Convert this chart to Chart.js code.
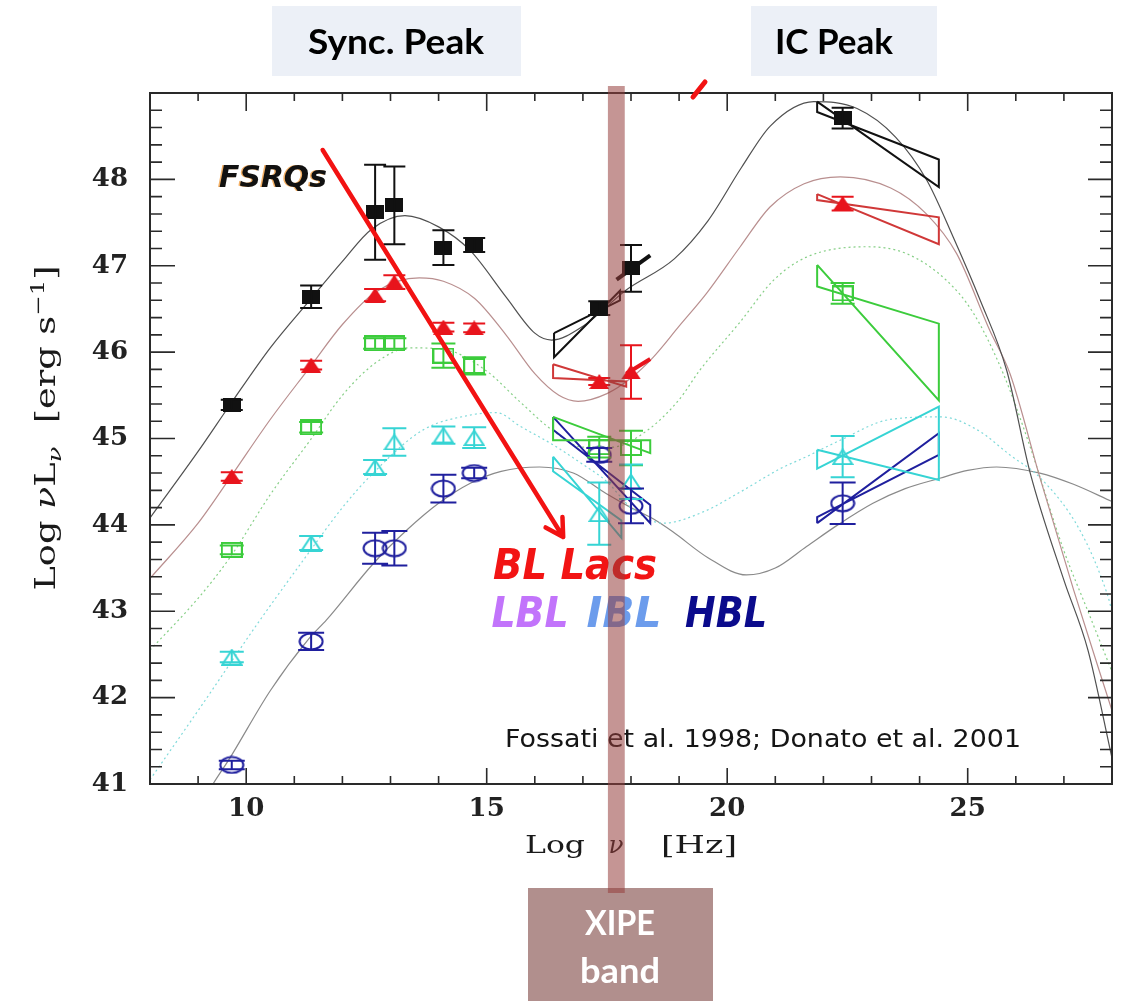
<!DOCTYPE html>
<html lang="en">
<head>
<meta charset="utf-8">
<title>Blazar sequence</title>
<script src="https://cdn.jsdelivr.net/npm/chart.js@4.4.1/dist/chart.umd.min.js"></script>
<style>
  html, body { margin: 0; padding: 0; background: #fff; }
  #box { width: 1124px; height: 1001px; }
</style>
</head>
<body>
<div id="box"><canvas id="sed"></canvas></div>
<script>
(() => {
  "use strict";

  // log nu [Hz] of the averaged SED points (radio, mm, IR/optical, X-ray, gamma)
  const logNu = [9.7, 11.35, 12.68, 13.08, 14.1, 14.74, 17.34, 18.0, 22.4];

  // labelled ticks on the frequency axis
  const nuTicks = [10, 15, 20, 25];

  // log nuL_nu per radio-luminosity bin, brightest first, with error bars
  const bin1Lum = [45.39, 46.64, 47.62, 47.70, 47.21, 47.24, 46.51, 46.97, 48.71];
  const bin1Err = [0.06, 0.13, 0.55, 0.45, 0.2, 0.08, 0.08, 0.27, 0.12];
  const bin2Lum = [44.56, 45.85, 46.66, 46.81, 46.29, 46.28, 45.66, 45.77, 47.72];
  const bin2Err = [0.05, 0.05, 0.07, 0.08, 0.05, 0.05, 0.04, 0.31, 0.08];
  const bin3Lum = [43.71, 45.13, 46.10, 46.10, 45.96, 45.84, 44.90, 44.89, 46.68];
  const bin3Err = [0.05, 0.06, 0.06, 0.06, 0.14, 0.1, 0.12, 0.2, 0.12];
  const bin4Lum = [42.47, 43.79, 44.67, 44.96, 45.04, 45.01, 44.13, 44.50, 44.79];
  const bin4Err = [0.06, 0.08, 0.08, 0.16, 0.1, 0.12, 0.36, 0.2, 0.24];
  const bin5Lum = [41.22, 42.65, 43.73, 43.73, 44.42, 44.60, 44.81, 44.22, 44.25];
  const bin5Err = [0.05, 0.1, 0.18, 0.2, 0.16, 0.06, 0.08, 0.2, 0.24];

  // X-ray and gamma-ray bow-ties: [log nu, log nuL_nu] corners
  const bin1XrayTie = [[16.4, 46.22], [17.77, 46.60], [17.77, 46.71], [16.4, 45.94]];
  const bin1SoftTie = [[17.7, 46.84], [18.4, 47.12]];
  const bin1GammaTie = [[21.87, 48.90], [24.4, 47.91], [24.4, 48.23], [21.87, 48.78]];
  const bin2XrayTie = [[16.38, 45.86], [17.9, 45.60], [17.9, 45.66], [16.38, 45.70]];
  const bin2SoftTie = [[17.9, 45.75], [18.4, 45.92]];
  const bin2GammaTie = [[21.87, 47.83], [24.4, 47.25], [24.4, 47.56], [21.87, 47.76]];
  const bin3XrayTie = [[16.38, 45.25], [18.4, 44.83], [18.4, 44.98], [16.38, 44.98]];
  const bin3GammaTie = [[21.87, 47.01], [24.4, 45.44], [24.4, 46.33], [21.87, 46.76]];
  const bin4XrayTie = [[16.38, 44.79], [17.8, 43.85], [17.8, 44.05], [16.38, 44.62]];
  const bin4GammaTie = [[21.87, 44.87], [24.4, 44.52], [24.4, 45.37], [21.87, 44.65]];
  const bin5XrayTie = [[16.38, 45.25], [18.4, 44.02], [18.4, 44.23], [16.38, 45.10]];
  const bin5GammaTie = [[21.87, 44.02], [24.4, 45.06], [24.4, 44.81], [21.87, 44.09]];

  // phenomenological SED model per bin
  const bin1Model = [[8, 44.08], [9, 44.85], [9.7, 45.42], [10.5, 46.05], [11.35, 46.62], [12, 47.05],
    [12.6, 47.42], [13.3, 47.58], [14, 47.45], [14.65, 47.18], [15.4, 46.64], [16, 46.22], [16.35, 46.14],
    [17, 46.3], [17.9, 46.72], [18.9, 47.08], [19.6, 47.52], [20.3, 48.14], [20.9, 48.62], [21.8, 48.9],
    [22.7, 48.82], [23.5, 48.49], [24.15, 47.99], [24.7, 47.33], [25.26, 46.6], [25.81, 45.79],
    [26.3, 44.6], [27, 43.36], [27.5, 42.55], [28, 41.3]];
  const bin2Model = [[8, 43.38], [9, 44.02], [9.67, 44.55], [10.5, 45.22], [11.33, 45.83], [12, 46.32],
    [12.7, 46.7], [13.6, 46.86], [14.1, 46.82], [14.75, 46.62], [15.4, 46.2], [16, 45.75], [16.5, 45.5],
    [16.9, 45.43], [17.5, 45.52], [18, 45.7], [18.46, 45.94], [19, 46.3], [19.57, 46.68], [20.27, 47.22],
    [20.89, 47.68], [21.6, 47.95], [22.35, 48.03], [23.4, 47.9], [24.14, 47.6], [24.77, 47.14],
    [25.46, 46.25], [25.88, 45.75], [26.5, 44.55], [27.2, 43.25], [28, 41.85]];
  const bin3Model = [[8, 42.55], [9, 43.15], [9.66, 43.62], [10.5, 44.35], [11.33, 44.98], [12, 45.5],
    [12.7, 45.88], [13.4, 46.05], [14.2, 46.02], [15, 45.78], [15.7, 45.42], [16.4, 45.08], [17, 44.9],
    [17.6, 44.9], [18.33, 45.09], [19, 45.45], [19.43, 45.79], [20.27, 46.35], [20.96, 46.83],
    [21.65, 47.1], [22.9, 47.22], [23.73, 47.14], [24.56, 46.83], [25.12, 46.45], [25.74, 45.75],
    [26.3, 44.9], [27, 43.7], [27.5, 43.0], [28, 42.3]];
  const bin4Model = [[8, 41.05], [9, 41.85], [10.29, 42.9], [11.33, 43.7], [12, 44.2], [12.64, 44.6],
    [13.68, 45.1], [14.65, 45.27], [15.2, 45.3], [15.7, 45.14], [16.4, 44.92], [17, 44.7], [17.5, 44.5],
    [18, 44.2], [18.67, 44.02], [19.5, 44.15], [20.27, 44.38], [21.1, 44.65], [21.65, 44.79],
    [22.35, 44.98], [23.38, 45.22], [24.45, 45.25], [25.2, 45.1], [25.9, 44.8], [26.5, 44.55],
    [27.33, 43.94], [27.9, 43.2], [28, 43.0]];
  const bin5Model = [[9.1, 40.8], [9.31, 41.0], [9.66, 41.3], [10.5, 42.08], [11.3, 42.68], [11.67, 42.9],
    [12.64, 43.55], [13.34, 43.94], [14, 44.25], [14.65, 44.48], [15.3, 44.62], [16.1, 44.67],
    [16.8, 44.6], [17.49, 44.36], [18, 44.2], [18.46, 44.07], [18.87, 43.92], [19.6, 43.62],
    [20.4, 43.42], [21, 43.5], [21.65, 43.75], [22.3, 44.0], [23.03, 44.25], [23.7, 44.42],
    [24.42, 44.54], [25, 44.63], [25.6, 44.67], [26.5, 44.6], [27.2, 44.47], [28, 44.27]];

  // XIPE energy range drawn as a band, log nu
  const xipeBand = [17.52, 17.87];

  const colBlack = "#111111";
  const colRed = "#e8141c";
  const colGreen = "#3ccc3c";
  const colCyan = "#36d4d4";
  const colNavy = "#1f1f9e";

  const pts = (lum) => logNu.map((nu, i) => ({ x: nu, y: lum[i] }));
  const xy = (list) => list.map(([a, b]) => ({ x: a, y: b }));
  const closed = (tie) => xy([...tie, tie[0]]);

  function markCanvas(w, h, paint) {
    const c = document.createElement("canvas");
    c.width = w; c.height = h;
    paint(c.getContext("2d"), w, h);
    return c;
  }
  const squareMark = markCanvas(18, 14, (g, w, h) => { g.fillStyle = colBlack; g.fillRect(0, 0, w, h); });
  const triMark = markCanvas(20, 15, (g, w, h) => {
    g.fillStyle = colRed; g.beginPath();
    g.moveTo(w / 2, 0); g.lineTo(w, h); g.lineTo(0, h); g.closePath(); g.fill();
  });
  const boxMark = markCanvas(22, 16, (g, w, h) => {
    g.strokeStyle = colGreen; g.lineWidth = 2; g.strokeRect(1, 1, w - 2, h - 2);
  });
  const openTriMark = markCanvas(22, 17, (g, w, h) => {
    g.strokeStyle = colCyan; g.lineWidth = 2; g.beginPath();
    g.moveTo(w / 2, 1.5); g.lineTo(w - 1.5, h - 1); g.lineTo(1.5, h - 1); g.closePath(); g.stroke();
  });
  const ringMark = markCanvas(26, 19, (g, w, h) => {
    g.strokeStyle = colNavy; g.lineWidth = 2; g.beginPath();
    g.ellipse(w / 2, h / 2, w / 2 - 1.5, h / 2 - 1.5, 0, 0, Math.PI * 2); g.stroke();
  });

  const bins = [
    { lum: bin1Lum, err: bin1Err, color: colBlack, cap: 11 },
    { lum: bin2Lum, err: bin2Err, color: colRed, cap: 11 },
    { lum: bin3Lum, err: bin3Err, color: colGreen, cap: 12 },
    { lum: bin4Lum, err: bin4Err, color: colCyan, cap: 12 },
    { lum: bin5Lum, err: bin5Err, color: colNavy, cap: 13 }
  ];

  const markerSet = (lum, img) => ({
    type: "scatter", data: pts(lum), pointStyle: img, pointRadius: 8, showLine: false
  });
  const tieSet = (tie, color, width) => ({
    type: "line", data: tie.length > 2 ? closed(tie) : xy(tie), borderColor: color,
    borderWidth: width || 2, pointRadius: 0, tension: 0, fill: false, showLine: true
  });
  const modelSet = (curve, color, dash) => ({
    type: "line", data: xy(curve), borderColor: color, borderWidth: 1.2, borderDash: dash || [],
    pointRadius: 0, cubicInterpolationMode: "monotone", fill: false, showLine: true
  });

  // first datasets end up on top
  const datasets = [
    markerSet(bin1Lum, squareMark),
    markerSet(bin2Lum, triMark),
    markerSet(bin3Lum, boxMark),
    markerSet(bin4Lum, openTriMark),
    markerSet(bin5Lum, ringMark),
    tieSet(bin1XrayTie, colBlack), tieSet(bin1SoftTie, colBlack, 4), tieSet(bin1GammaTie, colBlack),
    tieSet(bin2XrayTie, "#d03838"), tieSet(bin2SoftTie, colRed, 4), tieSet(bin2GammaTie, "#d03838"),
    tieSet(bin3XrayTie, colGreen), tieSet(bin3GammaTie, colGreen),
    tieSet(bin4XrayTie, colCyan), tieSet(bin4GammaTie, colCyan),
    tieSet(bin5XrayTie, colNavy), tieSet(bin5GammaTie, colNavy),
    modelSet(bin1Model, "#505050"),
    modelSet(bin2Model, "#b98f8f"),
    modelSet(bin3Model, "#86cf86", [2, 3]),
    modelSet(bin4Model, "#80dada", [2, 3]),
    modelSet(bin5Model, "#8a8a8a")
  ];

  // text squeezed or stretched to a given width
  function fitText(ctx, text, x, y, w, font, color, align) {
    ctx.save();
    ctx.font = font;
    const s = w / ctx.measureText(text).width;
    ctx.translate(x, y);
    ctx.scale(s, 1);
    ctx.fillStyle = color;
    ctx.textAlign = align || "center";
    ctx.textBaseline = "alphabetic";
    ctx.fillText(text, 0, 0);
    ctx.restore();
  }

  function richText(ctx, parts, w) {
    let total = 0;
    parts.forEach(p => { ctx.font = p[1]; p.w = ctx.measureText(p[0]).width; total += p.w; });
    ctx.scale(w / total, 1);
    let cx = -total / 2;
    ctx.textAlign = "left";
    parts.forEach(p => { ctx.font = p[1]; ctx.fillText(p[0], cx, p[2]); cx += p.w; });
  }

  const overlay = {
    id: "sedOverlay",
    afterDatasetsDraw(chart) {
      const { ctx, chartArea: a, scales: { x, y } } = chart;

      // error bars
      ctx.save();
      ctx.lineWidth = 2;
      bins.forEach(b => {
        ctx.strokeStyle = b.color;
        ctx.beginPath();
        logNu.forEach((nu, i) => {
          const px = x.getPixelForValue(nu);
          const top = y.getPixelForValue(b.lum[i] + b.err[i]);
          const bot = y.getPixelForValue(b.lum[i] - b.err[i]);
          ctx.moveTo(px, top); ctx.lineTo(px, bot);
          ctx.moveTo(px - b.cap, top); ctx.lineTo(px + b.cap, top);
          ctx.moveTo(px - b.cap, bot); ctx.lineTo(px + b.cap, bot);
        });
        ctx.stroke();
      });
      ctx.restore();

      // frame with inward ticks on all four sides
      ctx.save();
      ctx.strokeStyle = "#2a2a2a";
      ctx.lineWidth = 2;
      ctx.strokeRect(a.left, a.top, a.right - a.left, a.bottom - a.top);
      ctx.lineWidth = 1.6;
      ctx.beginPath();
      for (let v = 8; v <= 28; v++) {
        const px = x.getPixelForValue(v);
        const major = v % 5 === 0;
        ctx.moveTo(px, a.bottom); ctx.lineTo(px, a.bottom - (major ? 16 : 8));
        ctx.moveTo(px, a.top); ctx.lineTo(px, a.top + (major ? 18 : 8));
      }
      for (let k = 0; k <= 40; k++) {
        const py = y.getPixelForValue(41 + k * 0.2);
        const major = k % 5 === 0;
        ctx.moveTo(a.left, py); ctx.lineTo(a.left + (major ? 25 : 12), py);
        ctx.moveTo(a.right, py); ctx.lineTo(a.right - (major ? 24 : 12), py);
      }
      ctx.stroke();
      ctx.restore();
    },
    afterDraw(chart) {
      const { ctx, scales: { x, y } } = chart;
      const X = v => x.getPixelForValue(v);
      const Y = v => y.getPixelForValue(v);

      // blazar sequence arrow
      ctx.save();
      ctx.strokeStyle = "#f21212";
      ctx.lineWidth = 4.5;
      ctx.lineCap = "round";
      const p0 = [X(11.59), Y(48.34)];
      const p1 = [X(16.59), Y(43.86)];
      const ang = Math.atan2(p1[1] - p0[1], p1[0] - p0[0]);
      ctx.beginPath();
      ctx.moveTo(p0[0], p0[1]); ctx.lineTo(p1[0], p1[1]);
      [-0.52, 0.52].forEach(d => {
        ctx.moveTo(p1[0], p1[1]);
        ctx.lineTo(p1[0] - 20 * Math.cos(ang + d), p1[1] - 20 * Math.sin(ang + d));
      });
      ctx.stroke();
      ctx.lineWidth = 5;
      ctx.beginPath();
      ctx.moveTo(693, 97); ctx.lineTo(705, 82);
      ctx.stroke();
      ctx.restore();

      // class labels
      const comic = "italic bold 31px 'DejaVu Sans'";
      fitText(ctx, "FSRQs", 271.5, 186.5, 108, comic, "rgba(240,150,50,0.75)");
      fitText(ctx, "FSRQs", 273, 187, 108, comic, "#111");
      fitText(ctx, "BL Lacs", 575, 579, 164, "italic bold 42px 'DejaVu Sans'", "#f21414");
      fitText(ctx, "LBL", 530, 627, 77, "italic bold 42px 'DejaVu Sans'", "#c274fb");
      fitText(ctx, "IBL", 624, 627, 75, "italic bold 42px 'DejaVu Sans'", "#6c9cec");
      fitText(ctx, "HBL", 726, 627, 82, "italic bold 42px 'DejaVu Sans'", "#0b0b8c");
      fitText(ctx, "Fossati et al. 1998; Donato et al. 2001", 505, 747, 516, "25px 'DejaVu Sans'", "#151515", "left");

      // axis titles
      ctx.save();
      ctx.fillStyle = "#1a1a1a";
      ctx.translate(55, 428);
      ctx.rotate(-Math.PI / 2);
      const serif = "27px 'DejaVu Serif'";
      const serifIt = "italic 27px 'DejaVu Serif'";
      richText(ctx, [
        ["Log ", serif, 0], ["\u03bd", serifIt, 0], ["L", serif, 0], ["\u03bd", "italic 19px 'DejaVu Serif'", 6],
        ["  [erg s", serif, 0], ["\u22121", "18px 'DejaVu Serif'", -11], ["]", serif, 0]
      ], 325);
      ctx.restore();
      fitText(ctx, "Log", 525, 853, 60, "25px 'DejaVu Serif'", "#1a1a1a", "left");
      fitText(ctx, "\u03bd", 616, 853, 15, "italic 25px 'DejaVu Serif'", "#1a1a1a");
      fitText(ctx, "[Hz]", 661, 853, 76, "25px 'DejaVu Serif'", "#1a1a1a", "left");

      // header boxes
      ctx.fillStyle = "#ecf0f7";
      ctx.fillRect(272, 6, 249, 70);
      ctx.fillRect(751, 6, 186, 70);
      fitText(ctx, "Sync. Peak", 396, 54, 176, "bold 35px Lato", "#000");
      fitText(ctx, "IC Peak", 834, 54, 118, "bold 35px Lato", "#000");

      // XIPE band and its tag
      ctx.fillStyle = "#b18f8d";
      ctx.fillRect(528, 888, 185, 113);
      ctx.fillStyle = "rgba(150, 62, 60, 0.55)";
      const bx0 = X(xipeBand[0]);
      const bx1 = X(xipeBand[1]);
      ctx.fillRect(bx0, 86, bx1 - bx0, 807);
      fitText(ctx, "XIPE", 620, 935, 70, "bold 34px Lato", "#fff");
      fitText(ctx, "band", 620, 983, 80, "bold 34px Lato", "#fff");
    }
  };

  const tickFont = { family: "'DejaVu Serif'", size: 26, weight: "bold" };

  new Chart(document.getElementById("sed"), {
    type: "scatter",
    data: { datasets },
    options: {
      responsive: true,
      maintainAspectRatio: false,
      animation: false,
      devicePixelRatio: 1,
      layout: { padding: { top: 93, right: 12, left: 0, bottom: 0 } },
      plugins: { legend: { display: false }, tooltip: { enabled: false } },
      scales: {
        x: {
          type: "linear", min: 8, max: 28, position: "bottom",
          ticks: { padding: 10, color: "#222", font: tickFont, maxRotation: 0 },
          afterBuildTicks: s => { s.ticks = nuTicks.map(v => ({ value: v })); },
          grid: { display: false, drawTicks: false },
          border: { display: false },
          afterFit: s => { s.height = 217; }
        },
        y: {
          type: "linear", min: 41, max: 49, position: "left",
          ticks: { stepSize: 1, padding: 22, color: "#222", font: tickFont, callback: v => (v >= 49 ? "" : v) },
          grid: { display: false, drawTicks: false },
          border: { display: false },
          afterFit: s => { s.width = 150; }
        }
      }
    },
    plugins: [overlay]
  });
})();
</script>
</body>
</html>
